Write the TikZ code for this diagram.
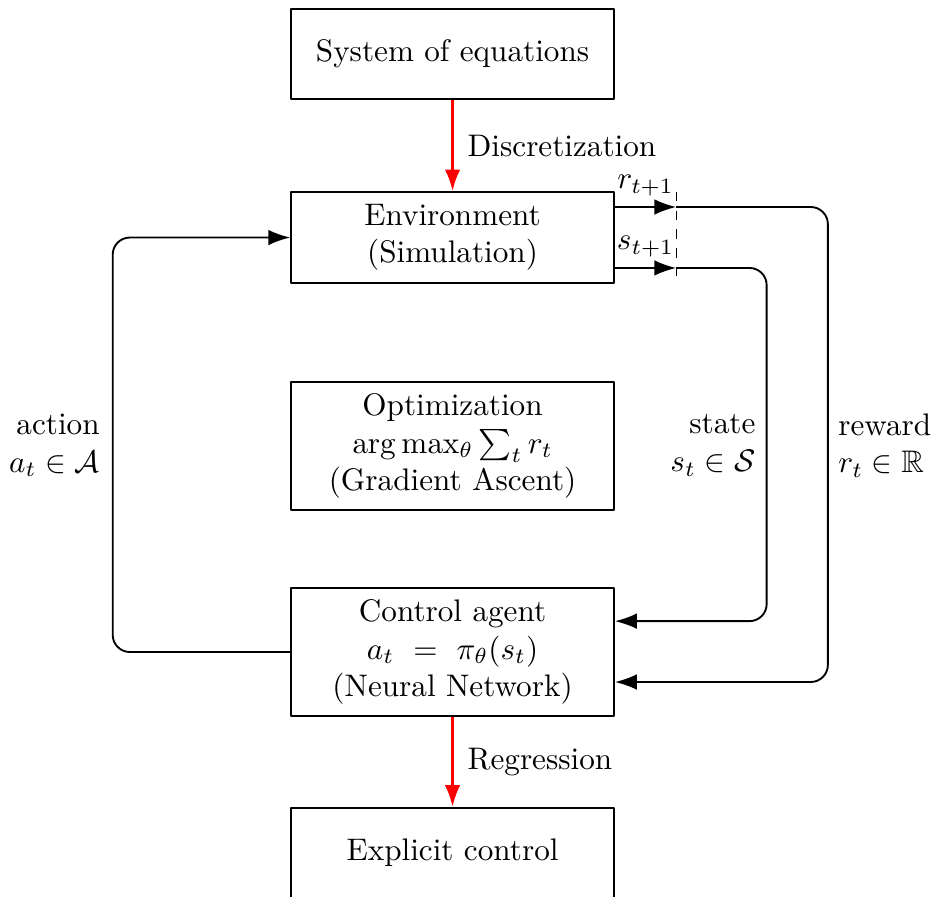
\documentclass[tikz,border=0pt]{standalone}
\usepackage{amsmath,amssymb}
\usepackage{tikz}
\usetikzlibrary{positioning,calc,arrows.meta}

\begin{document}
\begin{tikzpicture}[>={Latex[length=7pt,width=5pt]}, line join=round,
    block/.style={draw, semithick, minimum width=3.64cm, align=center},
    flow/.style={->, red, line width=1pt},
    conn/.style={->, semithick, rounded corners=5.5pt},
    side/.style={inner sep=0pt}]
  \useasboundingbox (0,0) rectangle (10.526,-10.109);
  % boxes
  \node[block, minimum height=1.01cm] (sys) at (5.10,-0.61) {System of equations};
  \node[block, minimum height=1.02cm] (env) at (5.10,-2.677) {Environment\\(Simulation)};
  \node[block, minimum height=1.44cm] (opt) at (5.10,-5.026) {Optimization\\$\arg\max_\theta \sum_t r_t$\\(Gradient Ascent)};
  \node[block, minimum height=1.44cm] (agent) at (5.10,-7.348) {Control agent\\$a_t\ =\ \pi_\theta(s_t)$\\(Neural Network)};
  \node[block, minimum height=1.01cm] (expl) at (5.10,-9.61) {Explicit control};
  % red arrows
  \draw[flow] (sys) -- node[right, black, xshift=1pt] {Discretization} (env);
  \draw[flow] (agent) -- node[right, black, xshift=1pt] {Regression} (expl);
  % action loop
  \draw[conn] (agent.west) -- (1.27,-7.348) -- (1.27,-2.677) -- (env.west);
  \node[side, anchor=east, align=right] (action) at (1.13,-5.02) {action\\$a_t \in \mathcal{A}$};
  % sampling cut
  \coordinate (rcut) at (7.62,-2.333);
  \coordinate (scut) at (7.62,-3.020);
  \draw[dashed, thin] (7.62,-2.164) -- (7.62,-3.156);
  \draw[->, semithick] (env.east |- rcut) -- node[above] {$r_{t+1}$} (rcut);
  \draw[->, semithick] (env.east |- scut) -- node[above] {$s_{t+1}$} (scut);
  % feedback to agent
  \draw[conn] (scut) -- (8.64,-3.020) -- (8.64,-7.00) -- (agent.east |- 0,-7.00);
  \draw[conn] (rcut) -- (9.33,-2.333) -- (9.33,-7.686) -- (agent.east |- 0,-7.686);
  \node[side, anchor=east, align=right] (state) at (8.52,-5.02) {state\\$s_t \in \mathcal{S}$};
  \node[side, anchor=west, align=left] (reward) at (9.44,-5.02) {reward\\$r_t \in \mathbb{R}$};
\end{tikzpicture}
\end{document}
